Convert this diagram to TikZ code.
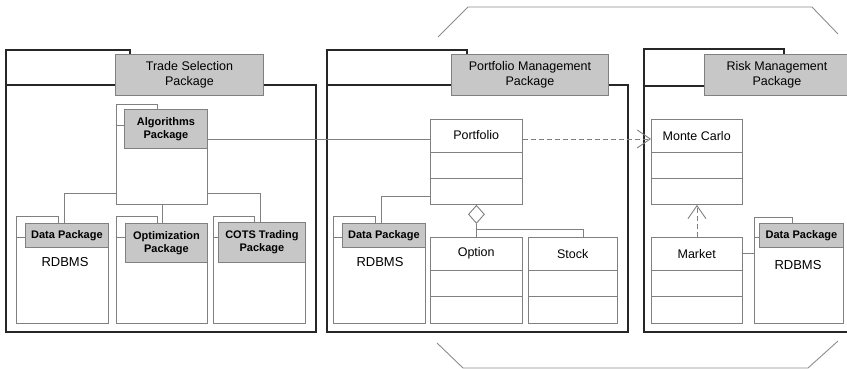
\documentclass[tikz,border=0pt]{standalone}
\usepackage{fontspec}
\setmainfont{Liberation Sans}
\usetikzlibrary{shapes.geometric, arrows.meta}
\tikzstyle{pkgbody} = [rectangle, draw=black!85, line width=1.6pt, anchor=north west, inner sep=0pt]
\tikzstyle{pkgtitle} = [rectangle, draw=black!50, fill=black!22, line width=0.9pt, anchor=north west,
                        inner sep=0pt, align=center, font=\fontsize{12.5}{14.5}\selectfont]
\tikzstyle{subbody} = [rectangle, draw=black!50, line width=0.9pt, anchor=north west, inner sep=0pt]
\tikzstyle{subtitle} = [subbody, fill=black!22, align=center, font=\bfseries\fontsize{11}{13}\selectfont]
\tikzstyle{classbox} = [subbody, fill=white]
\tikzstyle{classname} = [anchor=north west, inner sep=0pt, font=\fontsize{12.5}{14}\selectfont]
\tikzstyle{dbtext} = [inner sep=0pt, font=\fontsize{13}{15}\selectfont]
\tikzstyle{conn} = [draw=black!50, line width=0.9pt]
\tikzstyle{dep} = [conn, dash pattern=on 5pt off 3pt, -{Straight Barb[length=13pt, width=18pt]}]

\begin{document}
\begin{tikzpicture}[x=1pt, y=-1pt]
        \useasboundingbox (0,0) rectangle (847,369);

        % outer bracket
        \draw [conn, draw=black!45] (438,37) -- (468,7) -- (812,7) -- (838,34);
        \draw [conn, draw=black!45] (437,343) -- (463,368) -- (808,368) -- (838,341);

        % trade selection
        \node (ts) [pkgbody, minimum width=310pt, minimum height=247pt] at (5,84) {};
        \node (tstab) [pkgbody, minimum width=124pt, minimum height=35pt] at (5,49) {};
        \node (tslabel) [pkgtitle, minimum width=148pt, minimum height=41pt] at (115,54) {Trade Selection\\Package};

        \node (alg) [subbody, minimum width=91pt, minimum height=79pt] at (116,125) {};
        \node (algtab) [subbody, minimum width=41pt, minimum height=21pt] at (116,104) {};
        \node (alglabel) [subtitle, minimum width=83pt, minimum height=39pt] at (124,109) {Algorithms\\Package};

        \node (tsdata) [subbody, minimum width=92pt, minimum height=86pt] at (16,237) {};
        \node (tsdatatab) [subbody, minimum width=42pt, minimum height=21pt] at (16,216) {};
        \node (tsdatalabel) [subtitle, minimum width=83pt, minimum height=24pt] at (25,223) {Data Package};
        \node (tsdb) [dbtext] at (65,262) {RDBMS};

        \node (opt) [subbody, minimum width=91pt, minimum height=86pt] at (116,237) {};
        \node (opttab) [subbody, minimum width=41pt, minimum height=21pt] at (116,216) {};
        \node (optlabel) [subtitle, minimum width=82pt, minimum height=39pt] at (125,223) {Optimization\\Package};

        \node (cots) [subbody, minimum width=92pt, minimum height=86pt] at (213,237) {};
        \node (cotstab) [subbody, minimum width=41pt, minimum height=21pt] at (213,216) {};
        \node (cotslabel) [subtitle, minimum width=87pt, minimum height=40pt] at (218,222) {COTS Trading\\Package};

        % portfolio management
        \node (pm) [pkgbody, minimum width=301pt, minimum height=247pt] at (326,84) {};
        \node (pmtab) [pkgbody, minimum width=140pt, minimum height=35pt] at (326,49) {};
        \node (pmlabel) [pkgtitle, minimum width=157pt, minimum height=41pt] at (451,54) {Portfolio Management\\Package};

        \node (pf) [classbox, minimum width=92pt, minimum height=85pt] at (430,119) {};
        \node (pfname) [classname, minimum width=92pt, minimum height=32pt] at (430,119) {Portfolio};

        \node (pmdata) [subbody, minimum width=92pt, minimum height=86pt] at (333,237) {};
        \node (pmdatatab) [subbody, minimum width=42pt, minimum height=21pt] at (333,216) {};
        \node (pmdatalabel) [subtitle, minimum width=83pt, minimum height=24pt] at (342,223) {Data Package};
        \node (pmdb) [dbtext] at (380,262) {RDBMS};

        \node (op) [classbox, minimum width=92pt, minimum height=86pt] at (430,237) {};
        \node (opname) [classname, minimum width=92pt, minimum height=33pt] at (430,237) {Option};
        \node (st) [classbox, minimum width=89pt, minimum height=86pt] at (528,237) {};
        \node (stname) [classname, minimum width=89pt, minimum height=33pt] at (528,237) {Stock};

        % risk management
        \node (rm) [pkgbody, minimum width=215pt, minimum height=246pt] at (643,85) {};
        \node (rmtab) [pkgbody, minimum width=140pt, minimum height=37pt] at (643,48) {};
        \node (rmlabel) [pkgtitle, minimum width=145pt, minimum height=41pt] at (704,54) {Risk Management\\Package};

        \node (mc) [classbox, minimum width=91pt, minimum height=85pt] at (651,119) {};
        \node (mcname) [classname, minimum width=91pt, minimum height=33pt] at (651,119) {Monte Carlo};
        \node (mk) [classbox, minimum width=91pt, minimum height=86pt] at (651,237) {};
        \node (mkname) [classname, minimum width=91pt, minimum height=33pt] at (651,237) {Market};

        \node (rmdata) [subbody, minimum width=89pt, minimum height=86pt] at (754,237) {};
        \node (rmdatatab) [subbody, minimum width=38pt, minimum height=20pt] at (754,217) {};
        \node (rmdatalabel) [subtitle, minimum width=84pt, minimum height=24pt] at (759,223) {Data Package};
        \node (rmdb) [dbtext] at (798,265) {RDBMS};

        % class compartments
        \foreach \c in {pf, op, st, mc, mk} {
            \draw [conn] ([yshift=-33pt]\c.north west) -- ([yshift=-33pt]\c.north east);
            \draw [conn] ([yshift=-59.5pt]\c.north west) -- ([yshift=-59.5pt]\c.north east);
        }

        % connectors
        \coordinate (algout) at ([yshift=-10pt]alglabel.east);
        \draw [conn] (algout) -- (algout -| pf.west);
        \draw [dep] (algout -| pf.east) -- (algout -| mc.west);

        \coordinate (algleft) at ([yshift=11pt]alg.south west);
        \coordinate (algright) at ([yshift=11pt]alg.south east);
        \draw [conn] (algleft) -| ([xshift=-3pt]tsdatalabel.north);
        \draw [conn] (alg.south) -- (alg.south |- optlabel.north);
        \draw [conn] (algright) -| ([xshift=-2pt]cotslabel.north);

        \coordinate (pfleft) at ([yshift=8pt]pf.south west);
        \draw [conn] (pfleft) -| ([xshift=-3pt]pmdatalabel.north);

        \node (agg) [diamond, draw=black!50, fill=white, line width=0.9pt, minimum width=16pt,
                     minimum height=18pt, inner sep=0pt, anchor=north] at (pf.south) {};
        \draw [conn] (agg.south) -- (agg.south |- op.north);
        \coordinate (aggfork) at ([yshift=8pt]op.north);
        \draw [conn] (aggfork) -| ([xshift=10pt]st.north);

        \draw [dep] (mk.north) -- (mk.north |- mc.south);
        \draw [conn] (mkname.east) -- (mkname.east -| rmdata.west);

    \end{tikzpicture}
\end{document}
